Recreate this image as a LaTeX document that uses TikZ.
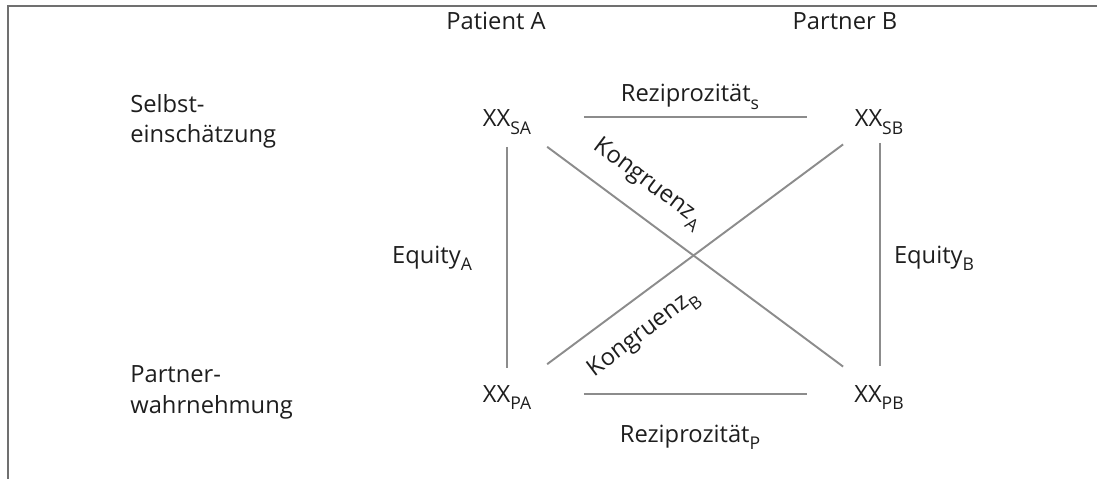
\documentclass[tikz,border=0pt]{standalone}
\usepackage{fontspec}
\setmainfont{Open Sans}
\newcommand\lsub[1]{\raisebox{-0.32em}{\fontsize{10}{10}\selectfont #1}}
\definecolor{txt}{HTML}{1E1E1E}
\definecolor{lnk}{HTML}{8C8C8C}
\definecolor{frm}{HTML}{707070}
\tikzset{
  lbl/.style={inner sep=0pt, text=txt, font=\fontsize{13.5}{17.6}\selectfont},
  xx/.style={lbl, anchor=base},
  link/.style={draw=lnk, line width=1.1pt},
  frame/.style={draw=frm, line width=1.4pt},
}
\begin{document}
\begin{tikzpicture}[x=0.02cm, y=-0.02cm]
\useasboundingbox (0,0) rectangle (1097,479);
\draw[frame] (8,479) -- (8,6) -- (1097,6);
% anchor points
\coordinate (SA) at (507,117);
\coordinate (SB) at (880,117);
\coordinate (PA) at (507,394);
\coordinate (PB) at (880,394);
% labels
\node[xx] (SAt) at (507,127) {XX\lsub{SA}};
\node[xx] (SBt) at (879,127) {XX\lsub{SB}};
\node[xx] (PAt) at (507,402) {XX\lsub{PA}};
\node[xx] (PBt) at (879,402) {XX\lsub{PB}};
\node[xx] (pA) at (496,30) {Patient A};
\node[xx] (pB) at (845,30) {Partner B};
\node[lbl, anchor=base west, align=left] (selbst) at (130,143) {Selbst-\\einschätzung};
\node[lbl, anchor=base west, align=left] (partner) at (130,413) {Partner-\\wahrnehmung};
\node[xx] (rs) at (690,102) {Reziprozität\lsub{s}};
\node[xx] (rp) at (690,442) {Reziprozität\lsub{P}};
\node[xx] (ea) at (432,263) {Equity\lsub{A}};
\node[xx] (eb) at (934,263) {Equity\lsub{B}};
\node[lbl, rotate=-37] (ka) at (648,184) {Kongruenz\lsub{A}};
\node[lbl, rotate=37] (kb) at (644,334) {Kongruenz\lsub{B}};
% connectors
\draw[link, shorten <=1.54cm, shorten >=1.46cm] (SA) -- (SB);
\draw[link, shorten <=1.54cm, shorten >=1.46cm] (PA) -- (PB);
\draw[link, shorten <=0.6cm, shorten >=0.52cm] (SA) -- (PA);
\draw[link, shorten <=0.52cm, shorten >=0.56cm] (SB) -- (PB);
\draw[link, shorten <=1.0cm, shorten >=0.92cm] (SA) -- (PB);
\draw[link, shorten <=1.0cm, shorten >=0.92cm] (PA) -- (SB);
\end{tikzpicture}
\end{document}
